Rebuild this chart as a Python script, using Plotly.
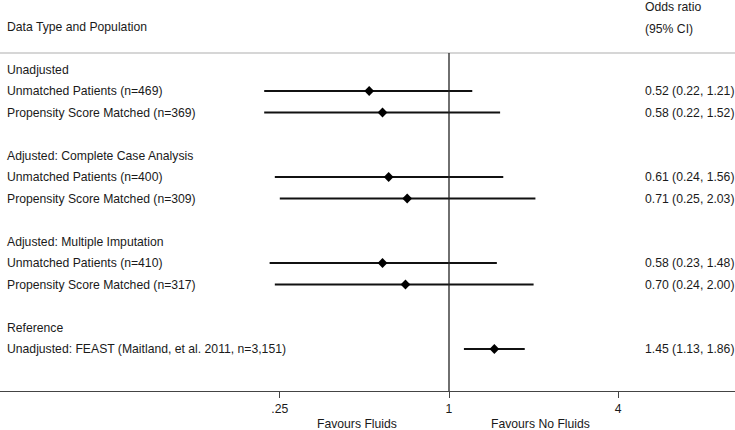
import math
import plotly.graph_objects as go

# ---- data ----
group_names = [
    "Unadjusted",
    "Adjusted: Complete Case Analysis",
    "Adjusted: Multiple Imputation",
    "Reference",
]
study_labels = [
    "Unmatched Patients (n=469)",
    "Propensity Score Matched (n=369)",
    "Unmatched Patients (n=400)",
    "Propensity Score Matched (n=309)",
    "Unmatched Patients (n=410)",
    "Propensity Score Matched (n=317)",
    "Unadjusted: FEAST (Maitland, et al. 2011, n=3,151)",
]
study_group = [0, 0, 1, 1, 2, 2, 3]
or_est = [0.52, 0.58, 0.61, 0.71, 0.58, 0.70, 1.45]
ci_lo = [0.22, 0.22, 0.24, 0.25, 0.23, 0.24, 1.13]
ci_hi = [1.21, 1.52, 1.56, 2.03, 1.48, 2.00, 1.86]
tick_vals = [0.25, 1, 4]
tick_text = [".25", "1", "4"]

FONT = "Liberation Sans, Arial, Helvetica, sans-serif"
TXT = "#1a1a1a"
FS = 12.2
W, H = 735, 430
TOP, BOT = 53, 391  # plot area in px
ROW = 21.5

# build row positions
header_rows = []
study_rows = []
r = 1
for g in range(len(group_names)):
    header_rows.append(r)
    r += 1
    for i, sg in enumerate(study_group):
        if sg == g:
            study_rows.append(r)
            r += 1
    r += 1
last_row = study_rows[-1]

y_top = 1 - (69.5 - TOP) / ROW
y_bot = last_row + (BOT - 349) / ROW

fig = go.Figure()
fig.add_trace(go.Scatter(
    x=or_est, y=study_rows, mode="markers",
    marker=dict(symbol="diamond", size=7.5, color="black"),
    error_x=dict(type="data", symmetric=False,
                 array=[h - o for h, o in zip(ci_hi, or_est)],
                 arrayminus=[o - l for o, l in zip(or_est, ci_lo)],
                 width=0, thickness=2, color="#111111"),
    showlegend=False, hoverinfo="skip",
))

ann = []
def px(x):
    return x / W
def py(y):
    return (BOT - y) / (BOT - TOP)

LX = 5
RX = 643
for g, rr in zip(group_names, header_rows):
    ann.append(dict(x=px(LX), y=rr, xref="paper", yref="y", text=g,
                    xanchor="left", yanchor="middle", showarrow=False))
for lab, rr, o, l, h in zip(study_labels, study_rows, or_est, ci_lo, ci_hi):
    ann.append(dict(x=px(LX), y=rr, xref="paper", yref="y", text=lab,
                    xanchor="left", yanchor="middle", showarrow=False))
    ann.append(dict(x=px(RX), y=rr, xref="paper", yref="y",
                    text=f"{o:.2f} ({l:.2f}, {h:.2f})",
                    xanchor="left", yanchor="middle", showarrow=False))

ann.append(dict(x=px(LX), y=py(27.5), xref="paper", yref="paper",
                text="Data Type and Population", xanchor="left",
                yanchor="middle", showarrow=False))
ann.append(dict(x=px(RX), y=py(7), xref="paper", yref="paper",
                text="Odds ratio", xanchor="left", yanchor="middle",
                showarrow=False))
ann.append(dict(x=px(RX), y=py(28.5), xref="paper", yref="paper",
                text="(95% CI)", xanchor="left", yanchor="middle",
                showarrow=False))
ann.append(dict(x=px(357), y=py(424), xref="paper", yref="paper",
                text="Favours Fluids", xanchor="center", yanchor="middle",
                showarrow=False))
ann.append(dict(x=px(540), y=py(424), xref="paper", yref="paper",
                text="Favours No Fluids", xanchor="center", yanchor="middle",
                showarrow=False))

x0_log = math.log10(2 ** ((0 - 449) / 84.6))
x1_log = math.log10(2 ** ((W - 449) / 84.6))

fig.update_layout(
    width=W, height=H,
    margin=dict(l=0, r=0, t=TOP, b=H - BOT, pad=0),
    paper_bgcolor="white", plot_bgcolor="white",
    font=dict(family=FONT, size=FS, color=TXT),
    annotations=ann,
    xaxis=dict(type="log", range=[x0_log, x1_log], tickvals=tick_vals,
               ticktext=tick_text, showgrid=False, zeroline=False,
               showline=True, linecolor="#444444", linewidth=1.3,
               ticks="outside", ticklen=6, tickcolor="#444444",
               tickwidth=1.2, tickfont=dict(size=FS, color=TXT)),
    yaxis=dict(range=[y_bot, y_top], showgrid=False, zeroline=False,
               showticklabels=False, showline=False, ticks=""),
    shapes=[
        dict(type="line", xref="paper", yref="paper", x0=0, x1=1, y0=1, y1=1,
             line=dict(color="#c8c8c8", width=1.5)),
        dict(type="line", xref="x", yref="paper", x0=1, x1=1, y0=0, y1=1,
             line=dict(color="#222222", width=1.3)),
    ],
)

fig.write_html("out.html", config={"displayModeBar": False},
               post_script="document.body.style.margin='0px';")
